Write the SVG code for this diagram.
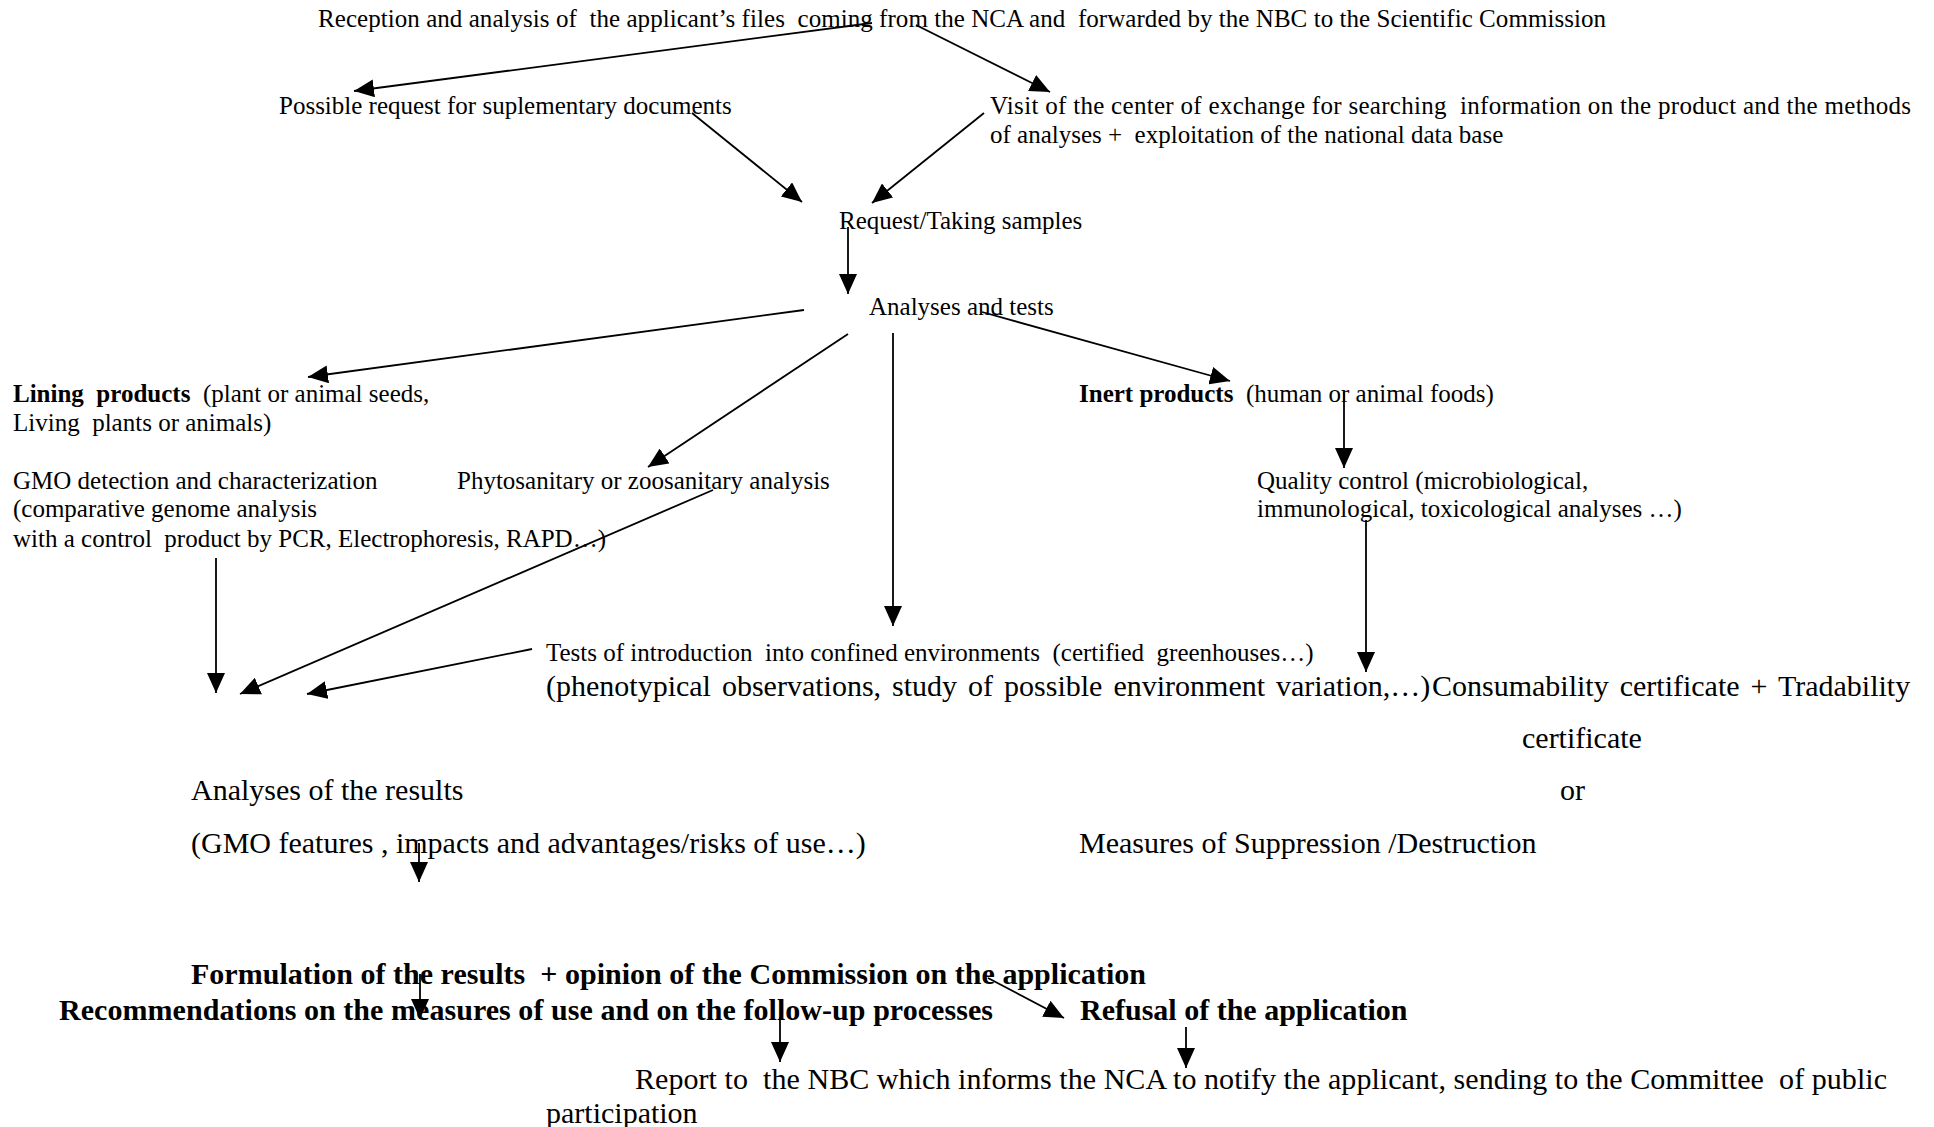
<svg xmlns="http://www.w3.org/2000/svg" width="1934" height="1127" viewBox="0 0 1934 1127">
<style>
text{font-family:"Liberation Serif","Times New Roman",serif;fill:#000;white-space:pre}
.s{font-size:25px}
.l{font-size:30px}
.b{font-weight:bold}
.j{word-spacing:3.5px}
.c line{stroke:#000;stroke-width:1.8;fill:none}
</style>
<defs>
<marker id="ah" markerUnits="userSpaceOnUse" markerWidth="20" markerHeight="18" refX="20" refY="9" orient="auto" viewBox="0 0 20 18">
<path d="M0,0 L20,9 L0,18 Z" fill="#000"/>
</marker>
</defs>
<rect width="1934" height="1127" fill="#fff"/>
<g id="n-reception"><text class="s" x="318" y="27" textLength="1288" xml:space="preserve">Reception and analysis of  the applicant’s files  coming from the NCA and  forwarded by the NBC to the Scientific Commission</text></g>
<g id="n-possible"><text class="s" x="279" y="114">Possible request for suplementary documents</text></g>
<g id="n-visit"><text class="s" x="990" y="114" textLength="921" xml:space="preserve">Visit of the center of exchange for searching  information on the product and the methods</text><text class="s" x="990" y="143" xml:space="preserve">of analyses +  exploitation of the national data base</text></g>
<g id="n-request"><text class="s" x="839" y="229">Request/Taking samples</text></g>
<g id="n-analyses"><text class="s" x="869" y="315">Analyses and tests</text></g>
<g id="n-lining"><text class="s" x="13" y="402" xml:space="preserve"><tspan class="b">Lining  products</tspan>  (plant or animal seeds,</text><text class="s" x="13" y="431" xml:space="preserve">Living  plants or animals)</text></g>
<g id="n-inert"><text class="s" x="1079" y="402" xml:space="preserve"><tspan class="b">Inert products</tspan>  (human or animal foods)</text></g>
<g id="n-gmo"><text class="s" x="13" y="489">GMO detection and characterization</text><text class="s" x="13" y="517">(comparative genome analysis</text><text class="s" x="13" y="547" xml:space="preserve">with a control  product by PCR, Electrophoresis, RAPD…)</text></g>
<g id="n-phyto"><text class="s" x="457" y="489">Phytosanitary or zoosanitary analysis</text></g>
<g id="n-quality"><text class="s" x="1257" y="489">Quality control (microbiological,</text><text class="s" x="1257" y="517">immunological, toxicological analyses …)</text></g>
<g id="n-tests"><text class="s" x="546" y="661" xml:space="preserve">Tests of introduction  into confined environments  (certified  greenhouses…)</text><text class="l j" x="546" y="696">(phenotypical observations, study of possible environment variation,…)</text></g>
<g id="n-certificate"><text class="l j" x="1432" y="696">Consumability certificate + Tradability</text><text class="l" x="1522" y="748">certificate</text><text class="l" x="1560" y="800">or</text><text class="l" x="1079" y="853">Measures of Suppression /Destruction</text></g>
<g id="n-results"><text class="l" x="191" y="800">Analyses of the results</text><text class="l" x="191" y="853">(GMO features , impacts and advantages/risks of use…)</text></g>
<g id="n-formulation"><text class="l b" x="191" y="984" textLength="955" xml:space="preserve">Formulation of the results  + opinion of the Commission on the application</text><text class="l b" x="59" y="1020" textLength="934">Recommendations on the measures of use and on the follow-up processes</text></g>
<g id="n-refusal"><text class="l b" x="1080" y="1020">Refusal of the application</text></g>
<g id="n-report"><text class="l" x="635" y="1089" textLength="1252" xml:space="preserve">Report to  the NBC which informs the NCA to notify the applicant, sending to the Committee  of public</text><text class="l" x="546" y="1123">participation</text></g>
<g id="connectors" class="c">
<line x1="872" y1="23" x2="354" y2="91" marker-end="url(#ah)"/>
<line x1="916" y1="25" x2="1050" y2="92" marker-end="url(#ah)"/>
<line x1="692" y1="113" x2="802" y2="202" marker-end="url(#ah)"/>
<line x1="984" y1="113" x2="872" y2="203" marker-end="url(#ah)"/>
<line x1="848" y1="227" x2="848" y2="294" marker-end="url(#ah)"/>
<line x1="804" y1="310" x2="308" y2="377" marker-end="url(#ah)"/>
<line x1="848" y1="334" x2="648" y2="467" marker-end="url(#ah)"/>
<line x1="893" y1="333" x2="893" y2="626" marker-end="url(#ah)"/>
<line x1="982" y1="312" x2="1230" y2="381" marker-end="url(#ah)"/>
<line x1="1344" y1="392" x2="1344" y2="468" marker-end="url(#ah)"/>
<line x1="1366" y1="520" x2="1366" y2="672" marker-end="url(#ah)"/>
<line x1="216" y1="558" x2="216" y2="693" marker-end="url(#ah)"/>
<line x1="713" y1="490" x2="240" y2="694" marker-end="url(#ah)"/>
<line x1="532" y1="649" x2="307" y2="694" marker-end="url(#ah)"/>
<line x1="419" y1="843" x2="419" y2="882" marker-end="url(#ah)"/>
<line x1="420" y1="974" x2="420" y2="1019" marker-end="url(#ah)"/>
<line x1="780" y1="1017" x2="780" y2="1062" marker-end="url(#ah)"/>
<line x1="988" y1="978" x2="1064" y2="1018" marker-end="url(#ah)"/>
<line x1="1186" y1="1027" x2="1186" y2="1068" marker-end="url(#ah)"/>
</g>
</svg>
